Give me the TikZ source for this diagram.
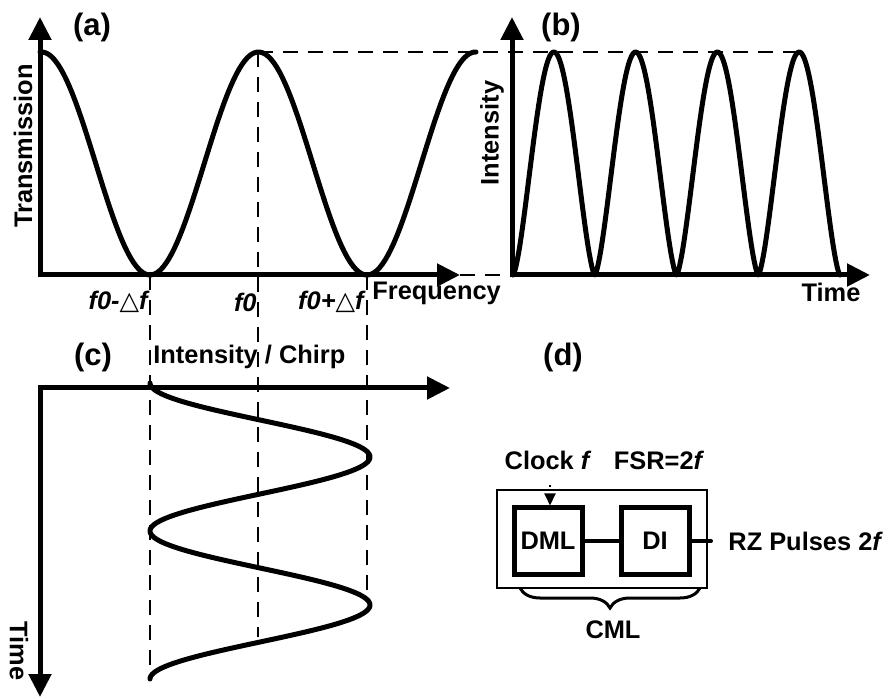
\documentclass[tikz,border=0pt]{standalone}
\usepackage{fontspec}
\setmainfont{Liberation Sans}
\newfontfamily\symfont{DejaVu Sans}
\usetikzlibrary{arrows.meta,decorations.pathreplacing,positioning,calc}
\tikzset{
  axis/.style={line width=2.5pt,{Triangle[length=11.5pt,width=11pt]}-{Triangle[length=11.5pt,width=11pt]}},
  curve/.style={line width=2.5pt,line cap=round,line join=round},
  guide/.style={line width=1pt,dash pattern=on 7.5pt off 5pt},
  lbl/.style={font=\fontsize{12.7}{15}\selectfont\bfseries,inner sep=0pt},
  panel/.style={font=\fontsize{15.5}{18}\selectfont\bfseries,inner sep=0pt},
  blk/.style={draw,line width=2.5pt,minimum width=34pt,minimum height=33pt,inner sep=0pt,font=\fontsize{12.7}{15}\selectfont\bfseries},
  link/.style={line width=2pt}
}
\newcommand{\dtri}{{\symfont\mdseries\char"25B3}}
\begin{document}
\begin{tikzpicture}[x=0.5pt,y=-0.5pt]
    \useasboundingbox (0,0) rectangle (888,699);
    % guides
    \draw[guide] (258,52) -- (800,52);
    \draw[guide] (460,275) -- (503,275);
    \draw[guide] (150,275) -- (150,680);
    \draw[guide] (258,52) -- (258,637);
    \draw[guide] (367,275) -- (367,600);
    % (a)
    \draw[axis] (40,17) -- (40,275) -- (460,275);
    \draw[curve] plot[domain=40:476,samples=150] (\x,{163.5-111.5*cos((\x-41.5)/217*360)});
    \node[panel] (la) at (92,27) {(a)};
    \node[lbl,rotate=90] (ttrans) at (23,146) {Transmission};
    \node[lbl,anchor=west] (tfreq) at (372,293) {Frequency};
    \node[lbl,anchor=east] (fminus) at (148,302) {\itshape f0-\dtri f};
    \node[lbl,anchor=east] (fzero) at (257,302) {\itshape f0};
    \node[lbl,anchor=east] (fplus) at (364,302) {\itshape f0+\dtri f};
    % (b)
    \draw[axis] (512,17) -- (512,275) -- (870,275);
    \draw[curve] plot[domain=513:840,samples=241] (\x,{275-223*abs(sin((\x-513)/81.75*180))^1.5});
    \node[panel] (lb) at (561,27) {(b)};
    \node[lbl,rotate=90] (tint) at (492,133) {Intensity};
    \node[lbl] (ttime) at (831,292) {Time};
    % (c)
    \draw[axis] (450,388) -- (40,388) -- (40,697);
    \draw[curve] plot[domain=383:679,samples=200] ({260-110*cos((\x-383)/148*360)},\x);
    \node[panel] (lc) at (93,357) {(c)};
    \node[lbl,anchor=west] (tchirp) at (153,357) {Intensity / Chirp};
    \node[lbl,rotate=-90] (ttimec) at (19,651) {Time};
    % (d)
    \node[panel] (ld) at (563,357) {(d)};
    \node[draw,line width=0.6pt,minimum width=105pt,minimum height=49pt,inner sep=0pt] (cml) at (602,539) {};
    \node[blk] (dml) at (548,541) {DML};
    \node[blk] (di) at (655,541) {DI};
    \coordinate (clk) at (550,485);
    \coordinate (out) at (711,541);
    \draw[link] (dml) -- (di);
    \draw[link,line cap=round] (di.east) -- (out);
    \draw[line width=1pt,dash pattern=on 1pt off 10pt,-{Triangle[length=6pt,width=5.5pt]}] (clk) -- (clk |- dml.north);
    \node[lbl] (clock) at (547,460) {Clock \itshape f};
    \node[lbl] (fsr) at (658,460) {FSR=2\itshape f};
    \node[lbl,anchor=west] (rz) at (728,541) {RZ Pulses 2\itshape f};
    \draw[decorate,decoration={brace,amplitude=10pt,mirror},line width=1.5pt] (520,588) -- (700,588);
    \node[lbl] (tcml) at (613,630) {CML};
\end{tikzpicture}
\end{document}
